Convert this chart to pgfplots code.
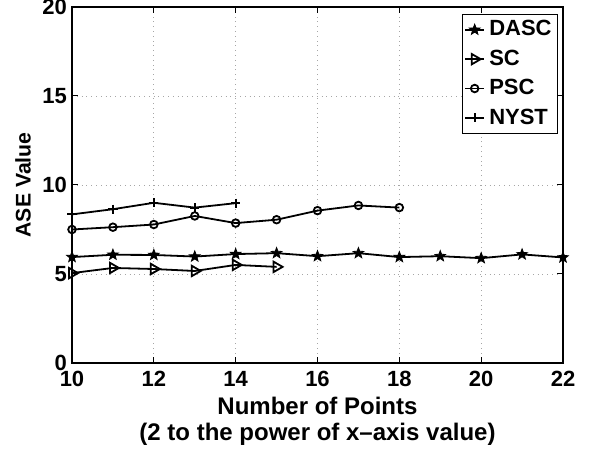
\documentclass[border=0pt]{standalone}
\usepackage{fontspec}
\setmainfont{Liberation Sans}
\usepackage{pgfplots}
\pgfplotsset{compat=1.18}

% filled five-pointed star, as in the original figure
\pgfdeclareplotmark{fstar}{%
  \pgfpathmoveto{\pgfpointpolar{90}{\pgfplotmarksize}}%
  \pgfpathlineto{\pgfpointpolar{126}{0.42\pgfplotmarksize}}%
  \pgfpathlineto{\pgfpointpolar{162}{\pgfplotmarksize}}%
  \pgfpathlineto{\pgfpointpolar{198}{0.42\pgfplotmarksize}}%
  \pgfpathlineto{\pgfpointpolar{234}{\pgfplotmarksize}}%
  \pgfpathlineto{\pgfpointpolar{270}{0.42\pgfplotmarksize}}%
  \pgfpathlineto{\pgfpointpolar{306}{\pgfplotmarksize}}%
  \pgfpathlineto{\pgfpointpolar{342}{0.42\pgfplotmarksize}}%
  \pgfpathlineto{\pgfpointpolar{18}{\pgfplotmarksize}}%
  \pgfpathlineto{\pgfpointpolar{54}{0.42\pgfplotmarksize}}%
  \pgfpathclose
  \pgfusepathqfillstroke}

\begin{document}
\begin{tikzpicture}
\begin{axis}[
    scale only axis,
    width=245.5pt, height=178pt,
    xmin=10, xmax=22, ymin=0, ymax=20,
    xtick={10,12,...,22}, ytick={0,5,...,20},
    xticklabel={\pgfmathprintnumber{\tick}},
    yticklabel={\pgfmathprintnumber{\tick}},
    grid=major,
    major grid style={dotted, gray!70},
    axis line style={line width=0.8pt},
    tick style={black, line width=0.5pt},
    major tick length=3pt,
    tick align=inside,
    /pgf/number format/assume math mode=true,
    tick label style={font=\fontsize{11}{13}\selectfont\bfseries},
    xticklabel style={yshift=-0.5pt},
    yticklabel style={xshift=1pt},
    xlabel={Number of Points\\(2 to the power of x\textendash axis value)},
    xlabel style={align=center, yshift=1.5pt, font=\fontsize{12}{13}\selectfont\bfseries},
    ylabel={ASE Value},
    ylabel style={yshift=-1pt, font=\fontsize{10.6}{12}\selectfont\bfseries},
    legend style={font=\fontsize{11}{13}\selectfont\bfseries, draw=black, line width=0.5pt,
        row sep=1.5pt, inner sep=1pt, at={(0.99,0.98)}, anchor=north east},
    legend cell align=left,
    legend image code/.code={%
        \draw[mark repeat=2, mark phase=2, #1] plot coordinates {(0cm,0cm) (0.17cm,0cm) (0.34cm,0cm)};},
    every axis plot/.append style={line width=0.9pt, black},
]
\addplot[mark=fstar, mark size=2.8pt, mark options={fill=black, line width=0.4pt}] coordinates {
    (10,5.95) (11,6.08) (12,6.07) (13,5.98) (14,6.12) (15,6.17) (16,6.0)
    (17,6.17) (18,5.95) (19,6.0) (20,5.89) (21,6.1) (22,5.93)};
\addlegendentry{DASC}
\addplot[mark=triangle, mark size=3pt, mark options={rotate=-90}] coordinates {
    (10,5.05) (11,5.34) (12,5.28) (13,5.17) (14,5.51) (15,5.40)};
\addlegendentry{SC}
\addplot[mark=o, mark size=1.9pt] coordinates {
    (10,7.5) (11,7.63) (12,7.78) (13,8.26) (14,7.86) (15,8.05) (16,8.56)
    (17,8.85) (18,8.73)};
\addlegendentry{PSC}
\addplot[mark=+, mark size=2.3pt] coordinates {
    (10,8.35) (11,8.64) (12,9.0) (13,8.73) (14,8.98)};
\addlegendentry{NYST}
\end{axis}
\pgfresetboundingbox
\path (current axis.south west) ++(-36pt,-45.5pt) rectangle ++(299pt,227pt);
\end{tikzpicture}
\end{document}
